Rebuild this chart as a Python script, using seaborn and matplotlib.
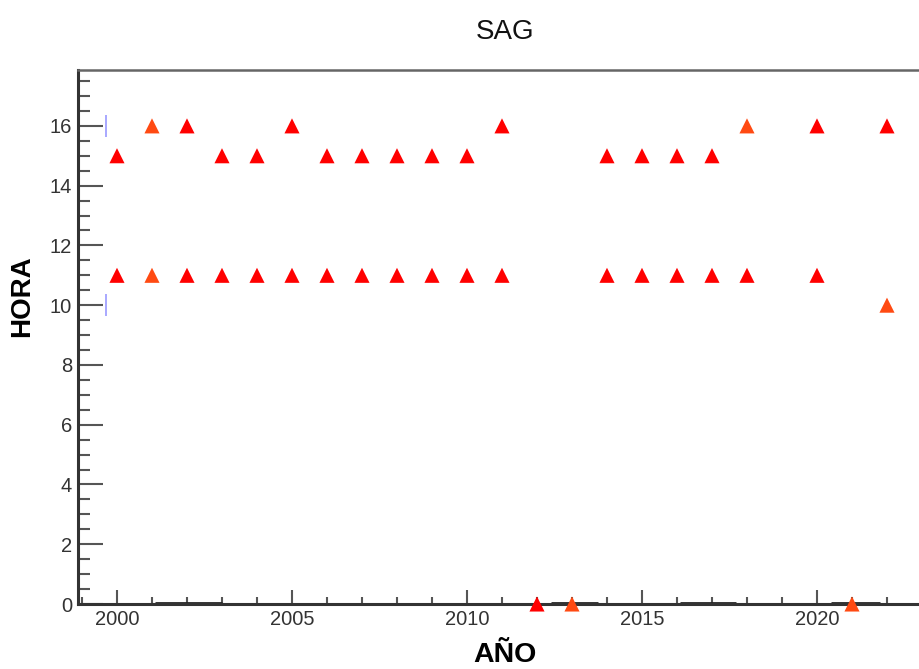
import matplotlib
matplotlib.use("Agg")
import matplotlib.pyplot as plt
import seaborn as sns
import pandas as pd
from matplotlib.ticker import MultipleLocator

# ---- data ----
years_16 = [2001, 2002, 2005, 2011, 2018, 2020, 2022]
color_16 = ["o", "r", "r", "r", "o", "r", "r"]
years_15 = [2000, 2003, 2004, 2006, 2007, 2008, 2009, 2010, 2014, 2015, 2016, 2017]
years_11 = [2000, 2001, 2002, 2003, 2004, 2005, 2006, 2007, 2008, 2009, 2010,
            2011, 2014, 2015, 2016, 2017, 2018, 2020]
color_11 = ["r", "o"] + ["r"] * 16
years_10 = [2022]
color_10 = ["o"]
years_0 = [2012, 2013, 2021]
color_0 = ["r", "o", "o"]

# small blue vertical marks near the left edge
blue_x = [1999.7, 1999.7]
blue_y = [16.0, 10.0]
blue_err = [0.36, 0.37]

# short dark segments lying on the x axis
seg_start = [2001.1, 2012.4, 2016.1, 2020.4]
seg_end = [2003.0, 2013.75, 2017.7, 2021.8]

rows = []
for y, c in zip(years_16, color_16):
    rows.append((y, 16, c))
for y in years_15:
    rows.append((y, 15, "r"))
for y, c in zip(years_11, color_11):
    rows.append((y, 11, c))
for y, c in zip(years_10, color_10):
    rows.append((y, 10, c))
for y, c in zip(years_0, color_0):
    rows.append((y, 0, c))
df = pd.DataFrame(rows, columns=["AÑO", "HORA", "grupo"])

sns.set_theme(style="white")
plt.rcParams["font.family"] = ["Liberation Sans", "DejaVu Sans"]

W, H = 920, 669
fig = plt.figure(figsize=(W / 100, H / 100), dpi=100)
ax = fig.add_axes([78 / W, (H - 604) / H, (932 - 78) / W, (604 - 70) / H])

# dark segments on the axis
ax.hlines([0.04] * len(seg_start), seg_start, seg_end, colors="#222222",
          linewidth=2, zorder=2, clip_on=False)
# blue marks
ax.vlines(blue_x, [b - e for b, e in zip(blue_y, blue_err)],
          [b + e for b, e in zip(blue_y, blue_err)], colors="#9a9aff",
          linewidth=1.2, zorder=3)

sns.scatterplot(data=df, x="AÑO", y="HORA", hue="grupo",
                palette={"r": "#ff0000", "o": "#ff4a12"}, marker="^",
                s=118, linewidth=0, legend=False, ax=ax, zorder=4)
for coll in ax.collections:
    coll.set_clip_on(False)

ax.set_xlim(1998.886, 2023.286)
ax.set_ylim(0, 17.87)
ax.xaxis.set_major_locator(MultipleLocator(5))
ax.xaxis.set_minor_locator(MultipleLocator(1))
ax.yaxis.set_major_locator(MultipleLocator(2))
ax.yaxis.set_minor_locator(MultipleLocator(0.5))

ax.tick_params(axis="both", which="both", direction="in", colors="#555555",
               labelcolor="#333333", labelsize=14.5, width=1.5)
ax.tick_params(axis="y", which="major", length=18, pad=4.3)
ax.tick_params(axis="y", which="minor", length=8.5)
ax.tick_params(axis="x", which="major", length=10, pad=4.3)
ax.tick_params(axis="x", which="minor", length=5)
ax.tick_params(left=True, bottom=True, top=False, right=False, which="both")

for side in ["left", "bottom", "top"]:
    ax.spines[side].set_visible(True)
    ax.spines[side].set_color("#333333")
ax.spines["left"].set_linewidth(2.2)
ax.spines["bottom"].set_linewidth(2.2)
ax.spines["top"].set_linewidth(1.8)
ax.spines["top"].set_color("#666666")
ax.spines["right"].set_visible(False)

ax.set_title("SAG", fontsize=20, pad=22, color="#111111")
ax.set_xlabel("AÑO", fontsize=20.5, fontweight="bold", color="black")
ax.set_ylabel("HORA", fontsize=20, fontweight="bold", color="black")
ax.xaxis.label.set(va="center", ha="center")
ax.yaxis.label.set(va="center", ha="center", rotation_mode="default")
ax.xaxis.set_label_coords(0.5, (604 - 655) / 534)
ax.yaxis.set_label_coords((22 - 78) / 854, (604 - 296) / 534)

fig.savefig("out.png", dpi=100)
